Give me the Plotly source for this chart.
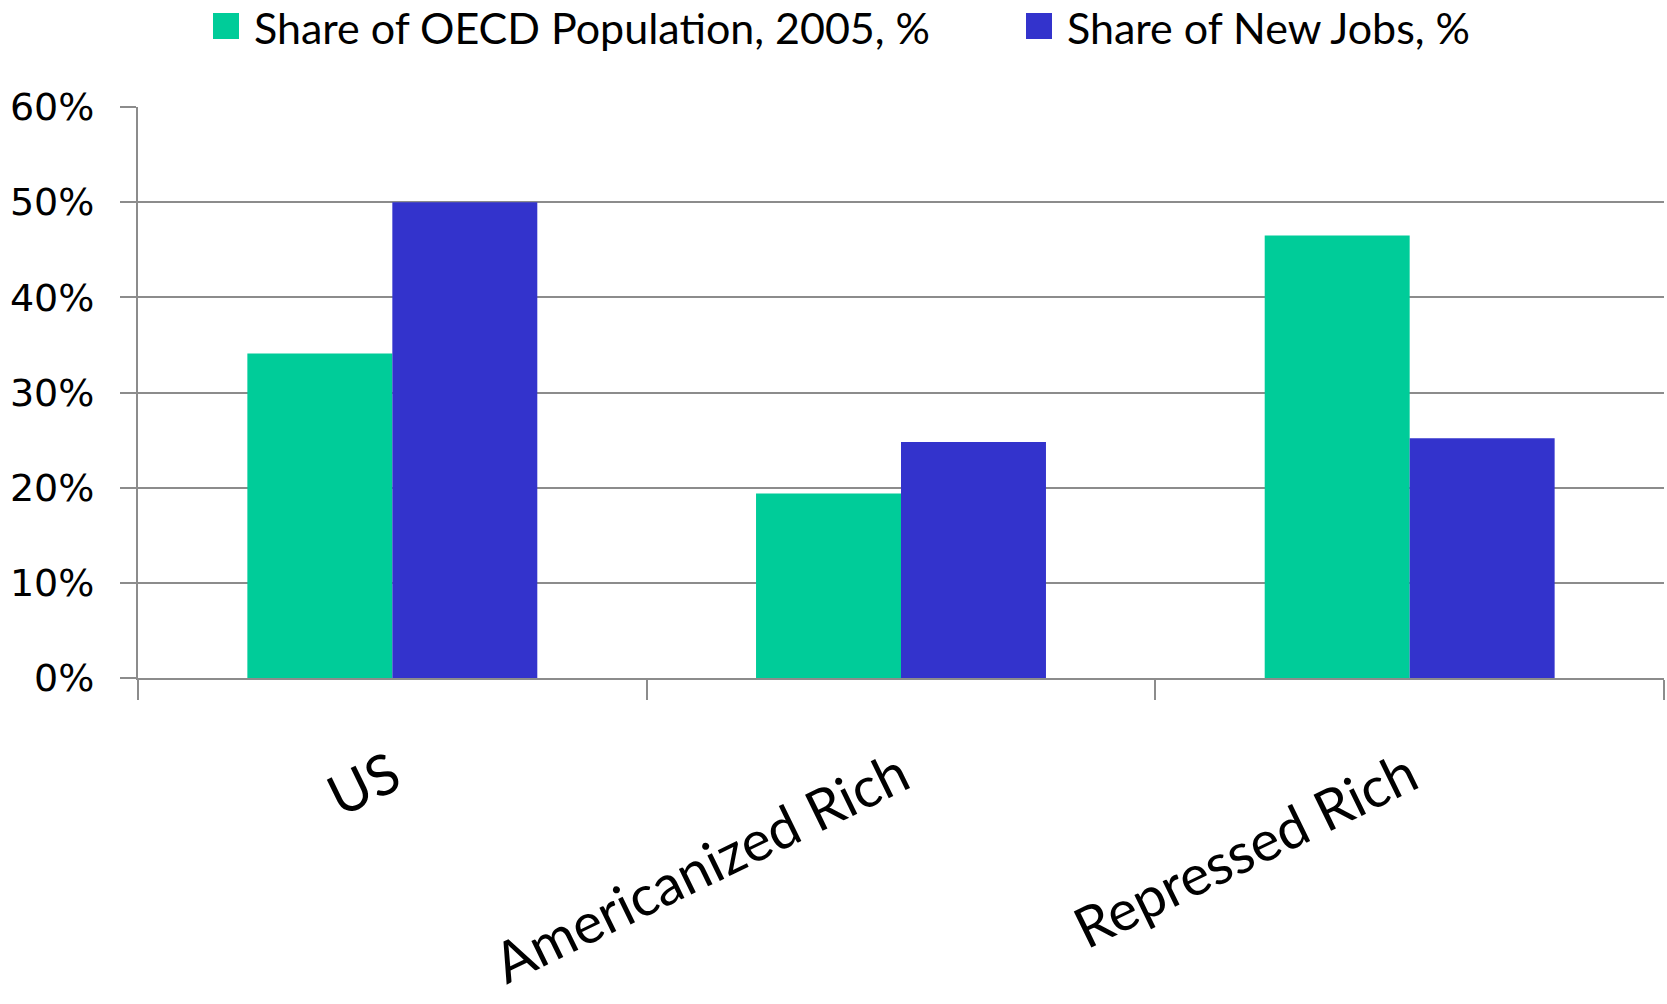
import plotly.graph_objects as go

# Chart data
categories = ["US", "Americanized Rich", "Repressed Rich"]
series_names = ["Share of OECD Population, 2005, %", "Share of New Jobs, %"]
population_share = [0.341, 0.194, 0.465]
new_jobs_share = [0.500, 0.248, 0.252]
y_ticks = [0, 0.1, 0.2, 0.3, 0.4, 0.5, 0.6]
y_tick_labels = ["0%", "10%", "20%", "30%", "40%", "50%", "60%"]

GREEN = "#00CC99"
BLUE = "#3333CC"
GRID = "#8C8C8C"

W, H = 1667, 1004
L, R, T, B = 138, 3, 107, 326
plot_w = W - L - R
plot_h = H - T - B

fig = go.Figure()
fig.add_trace(go.Bar(x=categories, y=population_share, name=series_names[0],
                     marker=dict(color=GREEN, line=dict(width=0)), showlegend=False))
fig.add_trace(go.Bar(x=categories, y=new_jobs_share, name=series_names[1],
                     marker=dict(color=BLUE, line=dict(width=0)), showlegend=False))

def px_x(p):
    return (p - L) / plot_w

def px_y(p):
    return (H - B - p) / plot_h

# Legend drawn as swatches + text above the plot
legend_items = [(213, 252, GREEN, series_names[0]), (1026, 1065, BLUE, series_names[1])]
shapes = []
annotations = []
for sx, tx, col, label in legend_items:
    shapes.append(dict(type="rect", xref="paper", yref="paper",
                       x0=px_x(sx), x1=px_x(sx + 26), y0=px_y(39), y1=px_y(13),
                       fillcolor=col, line=dict(width=0)))
    annotations.append(dict(xref="paper", yref="paper", x=px_x(tx), y=px_y(28),
                            xanchor="left", yanchor="middle", showarrow=False,
                            text=label, font=dict(family="Lato", size=43, color="#000000")))

fig.update_layout(
    width=W, height=H,
    margin=dict(l=L, r=R, t=T, b=B, autoexpand=False),
    paper_bgcolor="white", plot_bgcolor="white",
    barmode="group", bargap=0.43, bargroupgap=0,
    shapes=shapes, annotations=annotations,
    xaxis=dict(
        type="category", tickson="boundaries", ticks="outside", ticklen=20,
        tickwidth=2, tickcolor=GRID, showgrid=False, showline=True,
        linecolor=GRID, linewidth=2, tickangle=-26,
        tickfont=dict(family="Lato", size=56, color="#000000"),
        ticklabelstandoff=42,
    ),
    yaxis=dict(
        range=[0, 0.6], tickvals=y_ticks, ticktext=y_tick_labels,
        ticks="outside", ticklen=16, tickwidth=2, tickcolor=GRID,
        showgrid=True, gridcolor=GRID, gridwidth=2,
        showline=True, linecolor=GRID, linewidth=2, zeroline=False,
        tickfont=dict(family="DejaVu Sans", size=38, color="#000000"),
        ticklabelstandoff=18,
    ),
)

fig.write_html("out.html")
